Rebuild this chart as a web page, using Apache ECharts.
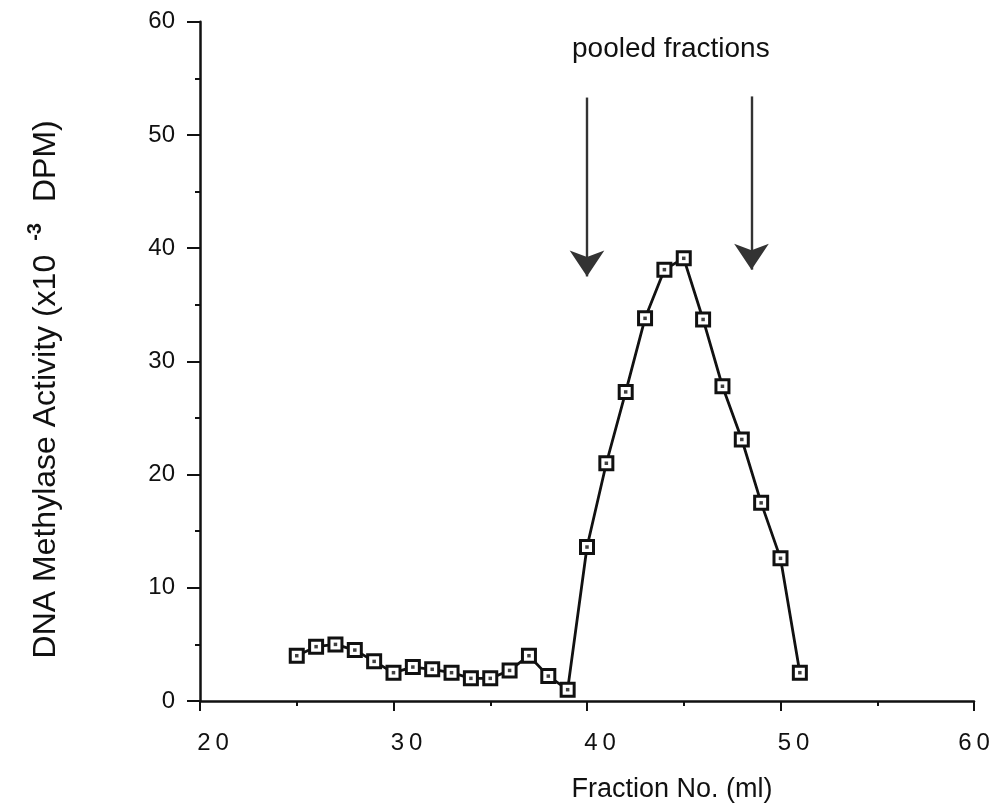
<!DOCTYPE html>
<html>
<head>
<meta charset="utf-8">
<script src="https://cdn.jsdelivr.net/npm/echarts@6/dist/echarts.min.js"></script>
<style>
html,body{margin:0;padding:0;background:#fff;}
#chart{width:995px;height:808px;}
</style>
</head>
<body>
<div id="chart"></div>
<script>
// Fraction numbers and DNA methylase activity (x10^-3 DPM)
var fractions = [25,26,27,28,29,30,31,32,33,34,35,36,37,38,39,40,41,42,43,44,45,46,47,48,49,50,51];
var activity  = [4.0,4.8,5.0,4.5,3.5,2.5,3.0,2.8,2.5,2.0,2.0,2.7,4.0,2.2,1.0,13.6,21.0,27.3,33.8,38.1,39.1,33.7,27.8,23.1,17.5,12.6,2.5];
// pooled fractions arrows
var arrowX = [40, 48.5];
var arrowTop = [53.3, 53.4];
var arrowTip = [37.5, 38.1];
var xTicks = [20,30,40,50,60];
var yTicks = [0,10,20,30,40,50,60];

var pts = fractions.map(function(f,i){return [f, activity[i]];});
var FONT = '"Liberation Sans", Arial, Helvetica, sans-serif';

var chart = echarts.init(document.getElementById('chart'), null, {renderer:'canvas'});
chart.setOption({
  animation:false,
  backgroundColor:'#fff',
  grid:{left:200, right:21, top:21.7, bottom:105.3, containLabel:false},
  xAxis:{
    type:'value', min:xTicks[0], max:xTicks[xTicks.length-1], interval:10,
    axisLine:{lineStyle:{color:'#111', width:2.5}},
    axisTick:{show:true, length:10, lineStyle:{color:'#111', width:2}},
    minorTick:{show:true, splitNumber:2, length:5, lineStyle:{color:'#111', width:2}},
    splitLine:{show:false},
    axisLabel:{margin:30, fontFamily:FONT, fontSize:24, color:'#111',
      formatter:function(v){
        var t = String(v).split('').join('\u2009');
        return v === xTicks[xTicks.length-1] ? '{e|'+t+'}' : '{s|'+t+'}';
      },
      rich:{
        s:{fontFamily:FONT, fontSize:24, color:'#111', padding:[0,0,0,26]},
        e:{fontFamily:FONT, fontSize:24, color:'#111'}
      }},
    name:'Fraction No. (ml)', nameLocation:'middle', nameGap:75,
    nameTextStyle:{fontFamily:FONT, fontSize:27, color:'#111', padding:[0,0,0,170]}
  },
  yAxis:{
    type:'value', min:yTicks[0], max:yTicks[yTicks.length-1], interval:10,
    axisLine:{lineStyle:{color:'#111', width:2.5}},
    axisTick:{show:true, length:13, lineStyle:{color:'#111', width:2}},
    minorTick:{show:true, splitNumber:2, length:5, lineStyle:{color:'#111', width:2}},
    splitLine:{show:false},
    axisLabel:{margin:25, fontFamily:FONT, fontSize:24, color:'#111'},
    name:'{a|DNA Methylase Activity (x10}{s|-3}{a|DPM)}',
    nameLocation:'middle', nameGap:133, nameRotate:90,
    nameTextStyle:{fontFamily:FONT, fontSize:32, color:'#111', padding:[0,56,0,0],
      rich:{
        a:{fontFamily:FONT, fontSize:32, color:'#111'},
        s:{fontFamily:FONT, fontSize:20, fontWeight:'bold', color:'#111', verticalAlign:'top', padding:[0,21,22,14]}
      }}
  },
  graphic:[
    {type:'text', left:572, top:35, style:{text:'pooled fractions', font:'28px '+FONT, fill:'#111'}}
  ],
  series:[
    {
      type:'line', data:pts, symbol:'rect', symbolSize:13,
      lineStyle:{color:'#111', width:2.8},
      itemStyle:{color:'#fff', borderColor:'#111', borderWidth:3},
      z:3,
      markLine:{
        silent:true, symbol:['none','arrow'], symbolSize:26,
        label:{show:false},
        lineStyle:{color:'#333', width:2.4, type:'solid'},
        data: arrowX.map(function(x,i){return [{coord:[x, arrowTop[i]]},{coord:[x, arrowTip[i]]}];})
      }
    },
    {
      type:'scatter', data:pts, symbol:'rect', symbolSize:3.5,
      itemStyle:{color:'#111'}, z:4, silent:true
    }
  ]
});
</script>
</body>
</html>
